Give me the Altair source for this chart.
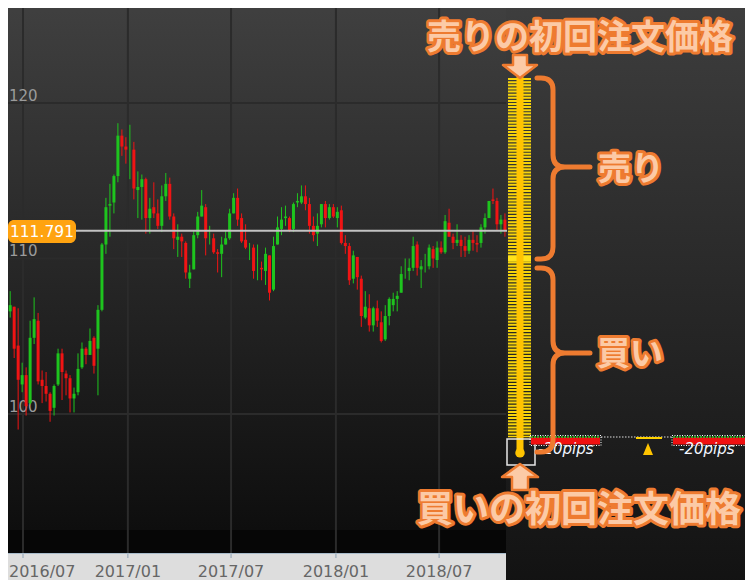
import altair as alt
import pandas as pd

W, H = 737, 572          # chart size (page has an 8px margin)
MX, MY = 8, 8


def px(x):
    return x - MX


def py(y):
    return y - MY


# ---------------- data ----------------
week_start = [
    "2016-05-30", "2016-06-06", "2016-06-13", "2016-06-20", "2016-06-27", "2016-07-04", "2016-07-11",
    "2016-07-18", "2016-07-25", "2016-08-01", "2016-08-08", "2016-08-15", "2016-08-22", "2016-08-29",
    "2016-09-05", "2016-09-12", "2016-09-19", "2016-09-26", "2016-10-03", "2016-10-10", "2016-10-17",
    "2016-10-24", "2016-10-31", "2016-11-07", "2016-11-14", "2016-11-21", "2016-11-28", "2016-12-05",
    "2016-12-12", "2016-12-19", "2016-12-26",
    "2017-01-02", "2017-01-09", "2017-01-16", "2017-01-23", "2017-01-30", "2017-02-06", "2017-02-13",
    "2017-02-20", "2017-02-27", "2017-03-06", "2017-03-13", "2017-03-20", "2017-03-27", "2017-04-03",
    "2017-04-10", "2017-04-17", "2017-04-24", "2017-05-01", "2017-05-08", "2017-05-15", "2017-05-22",
    "2017-05-29", "2017-06-05", "2017-06-12", "2017-06-19", "2017-06-26", "2017-07-03", "2017-07-10",
    "2017-07-17", "2017-07-24", "2017-07-31", "2017-08-07", "2017-08-14", "2017-08-21", "2017-08-28",
    "2017-09-04", "2017-09-11", "2017-09-18", "2017-09-25", "2017-10-02", "2017-10-09", "2017-10-16",
    "2017-10-23", "2017-10-30", "2017-11-06", "2017-11-13", "2017-11-20", "2017-11-27", "2017-12-04",
    "2017-12-11", "2017-12-18", "2017-12-25",
    "2018-01-01", "2018-01-08", "2018-01-15", "2018-01-22", "2018-01-29", "2018-02-05", "2018-02-12",
    "2018-02-19", "2018-02-26", "2018-03-05", "2018-03-12", "2018-03-19", "2018-03-26", "2018-04-02",
    "2018-04-09", "2018-04-16", "2018-04-23", "2018-04-30", "2018-05-07", "2018-05-14", "2018-05-21",
    "2018-05-28", "2018-06-04", "2018-06-11", "2018-06-18", "2018-06-25", "2018-07-02", "2018-07-09",
    "2018-07-16", "2018-07-23", "2018-07-30", "2018-08-06", "2018-08-13", "2018-08-20", "2018-08-27",
    "2018-09-03", "2018-09-10", "2018-09-17", "2018-09-24", "2018-10-01", "2018-10-08", "2018-10-15",
    "2018-10-22",
]

open_ = [
    110.6, 106.6, 106.9, 104.4, 101.9, 102.5, 100.7, 104.9, 106.0, 102.2, 101.8, 101.3, 100.4, 101.9,
    103.9, 102.6, 102.3, 101.0, 101.4, 103.0, 104.2, 103.8, 104.9, 104.2, 106.7, 110.9, 113.4, 113.6,
    115.3, 117.9, 117.2,
    117.0, 117.0, 114.4, 114.6, 115.1, 112.6, 113.3, 112.9, 112.1, 114.0, 114.8, 112.7, 111.2, 111.4,
    111.0, 108.7, 109.3, 111.5, 112.7, 113.3, 111.3, 111.3, 110.4, 110.3, 110.9, 111.3, 112.9, 113.9,
    112.6, 111.2, 110.7, 110.7, 109.2, 109.4, 109.2, 110.2, 108.0, 110.9, 111.9, 112.6, 112.6, 111.9,
    113.6, 113.6, 114.0, 113.5, 112.1, 111.6, 112.2, 113.5, 112.6, 113.3,
    112.6, 113.1, 111.0, 110.8, 108.7, 110.1, 108.7, 106.2, 106.8, 105.7, 106.8, 105.9, 104.8, 106.3,
    107.0, 107.4, 107.8, 109.1, 109.2, 109.4, 110.9, 109.3, 109.5, 109.5, 110.6, 109.9, 110.7, 110.4,
    112.3, 111.4, 111.0, 111.2, 110.8, 110.5, 111.2, 111.0, 111.0, 112.0, 112.6, 113.8, 113.7, 112.2,
    112.5,
]

high = [
    111.4, 107.9, 106.9, 106.8, 103.3, 103.0, 106.0, 107.5, 106.5, 102.8, 102.7, 101.4, 101.9, 104.2,
    104.2, 102.8, 102.5, 101.7, 103.9, 104.6, 104.3, 105.5, 105.0, 107.0, 111.0, 113.9, 114.8, 115.4,
    118.7, 118.3, 117.8,
    118.6, 117.5, 115.6, 115.4, 115.2, 113.9, 114.9, 113.8, 114.7, 115.5, 115.2, 112.9, 112.2, 111.6,
    111.1, 109.6, 111.8, 113.0, 114.4, 113.5, 112.1, 111.6, 110.6, 111.4, 111.8, 113.2, 114.2, 114.5,
    112.9, 112.2, 111.0, 110.9, 110.9, 109.8, 110.7, 110.2, 111.4, 112.7, 113.3, 113.4, 112.7, 113.6,
    114.2, 114.7, 114.7, 113.9, 112.7, 112.9, 113.5, 113.7, 113.5, 113.5,
    113.3, 113.4, 111.5, 111.0, 110.5, 110.1, 108.9, 107.9, 107.7, 106.9, 107.3, 106.6, 107.0, 107.5,
    107.8, 107.9, 109.5, 110.0, 110.0, 111.4, 111.1, 109.9, 110.3, 110.9, 110.8, 111.1, 111.1, 112.8,
    113.2, 111.6, 112.2, 111.5, 111.4, 111.5, 111.8, 111.5, 112.2, 112.9, 113.7, 114.5, 113.9, 112.8,
    112.9,
]

low = [
    106.5, 106.2, 103.6, 99.0, 101.4, 99.9, 100.6, 104.5, 101.9, 100.7, 100.8, 99.5, 99.9, 101.8,
    100.9, 101.2, 100.1, 100.1, 101.2, 102.9, 103.2, 103.8, 102.6, 101.2, 106.6, 110.3, 111.4, 112.9,
    114.9, 116.6, 116.1,
    115.1, 113.8, 112.6, 112.5, 111.6, 111.6, 112.6, 111.9, 111.7, 113.7, 112.5, 110.6, 110.1, 110.1,
    108.7, 108.1, 109.3, 111.3, 112.7, 110.2, 110.9, 110.3, 109.1, 108.8, 110.9, 111.2, 112.9, 112.1,
    111.0, 110.6, 109.9, 108.7, 108.6, 108.6, 108.3, 107.3, 107.9, 110.9, 111.5, 112.1, 111.7, 111.7,
    113.3, 113.5, 113.1, 111.6, 111.1, 110.8, 112.0, 112.0, 112.5, 112.6,
    112.0, 110.9, 110.3, 108.3, 108.4, 108.0, 105.6, 106.1, 105.3, 105.3, 105.6, 104.6, 104.7, 105.7,
    106.6, 106.6, 107.8, 108.7, 108.6, 109.2, 108.9, 108.1, 109.1, 109.3, 109.4, 109.4, 110.3, 110.3,
    111.4, 110.6, 110.8, 110.1, 110.1, 110.3, 110.5, 110.4, 110.7, 111.6, 112.6, 113.5, 111.8, 111.6,
    111.4,
]

close = [
    106.5, 107.0, 104.2, 102.2, 102.5, 100.5, 104.9, 106.1, 102.1, 101.8, 101.3, 100.2, 101.8, 103.9,
    102.7, 102.3, 101.0, 101.3, 102.9, 104.2, 103.8, 104.7, 103.1, 106.7, 110.9, 113.3, 113.5, 115.3,
    117.9, 117.2, 117.0,
    117.0, 114.5, 114.6, 115.1, 112.6, 113.2, 112.9, 112.1, 114.0, 114.8, 112.7, 111.3, 111.4, 111.1,
    109.1, 109.1, 111.5, 112.7, 113.4, 111.3, 111.3, 110.4, 110.3, 110.9, 111.3, 112.9, 113.9, 112.5,
    111.1, 110.7, 110.7, 109.2, 109.2, 109.3, 110.3, 107.8, 110.8, 112.0, 112.5, 112.7, 111.8, 113.5,
    113.7, 114.0, 113.5, 112.1, 111.5, 112.1, 113.5, 112.6, 113.3, 112.7,
    113.0, 111.0, 110.8, 108.6, 110.2, 108.8, 106.3, 106.9, 105.7, 106.8, 106.0, 104.7, 106.3, 107.4,
    107.4, 107.6, 109.0, 109.1, 109.4, 110.8, 109.4, 109.5, 109.5, 110.7, 110.0, 110.7, 110.4, 112.4,
    111.4, 111.0, 111.2, 110.8, 110.5, 111.2, 111.0, 110.9, 112.0, 112.6, 113.7, 113.7, 112.2, 112.5,
    111.8,
]

assert len(week_start) == len(open_) == len(high) == len(low) == len(close)

grid_prices = [100, 110, 120]
grid_labels = ["100", "110", "120"]
month_ticks = ["2016-07-01", "2017-01-01", "2017-07-01", "2018-01-01", "2018-07-01"]
month_labels = ["2016/07", "2017/01", "2017/07", "2018/01", "2018/07"]
current_price = 111.791

# trap-repeat order ladder (prices)
ladder_top = 121.6
ladder_split_hi = 110.2
ladder_split_lo = 109.8
ladder_stripe_bottom = 98.5
ladder_first_buy = 97.5

pips_label = "-20pips"
title_sell = "売りの初回注文価格"
title_buy = "買いの初回注文価格"
label_sell = "売り"
label_buy = "買い"

# ---------------- style ----------------
GREEN = "#1ec41e"
RED = "#f01414"
GRID = "#2b2b2b"
ORANGE = "#ee7b30"
PEACH = "#fccaa6"
CJK = "Noto Sans CJK JP"
LATIN = "DejaVu Sans"

xscale = alt.Scale(nice=False, domain=[
    alt.DateTime(year=2016, month=6, date=4, hours=16, minutes=25, utc=True),
    alt.DateTime(year=2019, month=12, date=19, hours=16, utc=True)])
yscale = alt.Scale(nice=False, zero=False, domain=[89.325, 126.109])

one = pd.DataFrame({"k": [0]})


def grad(c0, c1):
    return alt.Gradient(gradient="linear",
                        stops=[alt.GradientStop(color=c0, offset=0),
                               alt.GradientStop(color=c1, offset=1)],
                        x1=0, x2=0, y1=0, y2=1)


def rect(x1, x2, y1, y2, **kw):
    return alt.Chart(one).mark_rect(**kw).encode(
        x=alt.value(px(x1)), x2=alt.value(px(x2)),
        y=alt.value(py(y1)), y2=alt.value(py(y2)))


def hrule(x1, x2, y, **kw):
    return alt.Chart(one).mark_rule(**kw).encode(
        x=alt.value(px(x1)), x2=alt.value(px(x2)), y=alt.value(py(y)))


def to_path(cmds, cx0, cy0, s):
    out = []
    for c in cmds:
        op, pts = c[0], c[1:]
        out.append(op + " ".join(f"{(x - cx0) / s:.4f},{(y - cy0) / s:.4f}" for x, y in pts))
    return " ".join(out)


def sym(cmds, cx0, cy0, s, **kw):
    return alt.Chart(one).mark_point(shape=to_path(cmds, cx0, cy0, s), size=(2 * s) ** 2,
                                     opacity=1, **kw).encode(
        x=alt.value(px(cx0)), y=alt.value(py(cy0)))


def brace(xl, yt, yb, xs, ym, xt, r):
    return [("M", (xl, yt)), ("L", (xs - r, yt)), ("Q", (xs, yt), (xs, yt + r)),
            ("L", (xs, ym - r)), ("Q", (xs, ym), (xs + r, ym)), ("L", (xt, ym)),
            ("M", (xs + r, ym)), ("Q", (xs, ym), (xs, ym + r)),
            ("L", (xs, yb - r)), ("Q", (xs, yb), (xs - r, yb)), ("L", (xl, yb))]


def big_text(txt, x, y, size, align):
    d = pd.DataFrame({"s": [txt]})
    kw = dict(font=CJK, fontSize=size, fontWeight="bold", align=align, baseline="alphabetic")
    enc = dict(x=alt.value(px(x)), y=alt.value(py(y)), text="s:N")
    outline = alt.Chart(d).mark_text(fill=ORANGE, stroke=ORANGE, strokeWidth=6,
                                     strokeJoin="round", **kw).encode(**enc)
    inner = alt.Chart(d).mark_text(fill=PEACH, **kw).encode(**enc)
    return [outline, inner]


layers = []

# backgrounds
layers.append(rect(0, 506, 0, 530, fill=grad("#404040", "#0e0e0e")))
layers.append(rect(506, 753, 0, 588, fill=grad("#3e3e3e", "#121212")))
layers.append(rect(0, 506, 530, 553, fill="#060606"))
layers.append(rect(0, 506, 553, 588, fill="#dddddd"))
layers.append(hrule(0, 506, 553.5, color="#a9bccc", strokeWidth=1))

# grid
months = pd.DataFrame({"d": month_ticks, "lab": month_labels})
xenc = alt.X("d:T", scale=xscale, axis=None)
layers.append(alt.Chart(months).mark_rule(color=GRID, strokeWidth=2).encode(
    x=xenc, y=alt.value(0), y2=alt.value(py(553))))
layers.append(alt.Chart(months).mark_rule(color="#8fa3b5", strokeWidth=1).encode(
    x=xenc, y=alt.value(py(554)), y2=alt.value(py(558))))
layers.append(alt.Chart(months.iloc[1:]).mark_text(
    align="center", baseline="alphabetic", font=LATIN, fontSize=16, color="#666666").encode(
    x=xenc, y=alt.value(py(577)), text="lab:N"))
layers.append(alt.Chart(months.iloc[:1]).mark_text(
    align="left", baseline="alphabetic", font=LATIN, fontSize=16, color="#666666").encode(
    x=alt.value(1), y=alt.value(py(577)), text="lab:N"))

prices = pd.DataFrame({"p": grid_prices, "lab": grid_labels})
yenc = alt.Y("p:Q", scale=yscale, axis=None)
layers.append(alt.Chart(prices).mark_rule(color=GRID, strokeWidth=2).encode(
    y=yenc, x=alt.value(0), x2=alt.value(px(506))))
layers.append(alt.Chart(prices).mark_text(
    align="left", baseline="alphabetic", dy=-2, font=LATIN, fontSize=15, color="#9b9b9b").encode(
    y=yenc, x=alt.value(1), text="lab:N"))

# candles
candles = pd.DataFrame({"t": week_start, "o": open_, "h": high, "l": low, "c": close})
base = alt.Chart(candles).transform_calculate(mid="time(toDate(datum.t)) + 216000000")
col = alt.condition("datum.c >= datum.o", alt.value(GREEN), alt.value(RED))
cx = alt.X("mid:T", scale=xscale, axis=None)
layers.append(base.mark_rule(strokeWidth=1, clip=True).encode(
    x=cx, y=alt.Y("l:Q", scale=yscale, axis=None), y2="h:Q", color=col))
layers.append(base.mark_rule(strokeWidth=3, clip=True).encode(
    x=cx, y=alt.Y("o:Q", scale=yscale, axis=None), y2="c:Q", color=col))

# current price line & tag
cp = pd.DataFrame({"p": [current_price], "lab": [f"{current_price:.3f}"]})
layers.append(alt.Chart(cp).mark_rule(color="#c2c2c2", strokeWidth=2).encode(
    y=yenc, x=alt.value(0), x2=alt.value(px(507))))
layers.append(rect(8, 76, 220, 243, fill="#ffa310", cornerRadius=6))
layers.append(alt.Chart(cp).mark_text(
    align="right", baseline="middle", dy=1, font=LATIN, fontSize=15.5, color="white").encode(
    y=yenc, x=alt.value(px(74)), text="lab:N"))

# order ladder
lad = pd.DataFrame({"top": [ladder_top], "shi": [ladder_split_hi], "slo": [ladder_split_lo],
                    "sb": [ladder_stripe_bottom], "fb": [ladder_first_buy]})
layers.append(alt.Chart(lad).mark_rule(color="#f6d40c", strokeWidth=23, strokeDash=[2, 1.11]).encode(
    x=alt.value(px(519.5)), y=alt.Y("top:Q", scale=yscale, axis=None), y2="sb:Q"))
layers.append(alt.Chart(lad).mark_rule(color="#ffe21a", strokeWidth=23).encode(
    x=alt.value(px(519.5)), y=alt.Y("shi:Q", scale=yscale, axis=None), y2="slo:Q"))
layers.append(alt.Chart(lad).mark_rule(color="#ffc400", strokeWidth=7, strokeCap="round").encode(
    x=alt.value(px(520)), y=alt.Y("top:Q", scale=yscale, axis=None), y2="fb:Q"))
layers.append(alt.Chart(lad).mark_point(shape="circle", filled=True, size=90, color="#ffc400",
                                        opacity=1).encode(
    x=alt.value(px(520)), y=alt.Y("fb:Q", scale=yscale, axis=None)))
layers.append(rect(507, 535, 439, 465, fillOpacity=0, stroke="#e6e6e6", strokeWidth=1.5))

# pips indicators
for x1, x2 in [(531, 600), (673, 746)]:
    layers.append(rect(x1, x2, 437.5, 444.5, fill="#f01010"))
    layers.append(hrule(x1, x2, 437, color="#2fd02f", strokeWidth=1.5, strokeDash=[2, 1]))
    layers.append(rect(x1 - 1, x2 + 1, 435.5, 445.5, fillOpacity=0, stroke="white",
                       strokeWidth=1, strokeDash=[1, 1.5]))
layers.append(hrule(601, 673, 437, color="#dddddd", strokeWidth=1.2, strokeDash=[1.5, 1.5]))
layers.append(hrule(636, 662, 438, color="#ffd200", strokeWidth=2))
layers.append(sym([("M", (648, 443)), ("L", (653, 455)), ("L", (643, 455)), ("Z",)],
                  648, 449, 7, filled=True, color="#ffc400"))
pips = pd.DataFrame({"s": [pips_label]})
for x in [538, 679]:
    layers.append(alt.Chart(pips).mark_text(
        align="left", baseline="alphabetic", font=LATIN, fontSize=15, fontStyle="italic",
        color="#f2f6ff").encode(x=alt.value(px(x)), y=alt.value(py(454)), text="s:N"))

# braces
for yt, yb, ym in [(78, 259, 167), (268, 452, 353)]:
    layers.append(sym(brace(537, yt, yb, 553, ym, 590, 12), 553, ym, 100,
                      filled=False, color=ORANGE, strokeWidth=5, strokeCap="round",
                      strokeJoin="round"))

# arrows
down = [("M", (513, 55)), ("L", (527, 55)), ("L", (527, 65)), ("L", (537, 65)),
        ("L", (520, 78)), ("L", (503, 65)), ("L", (513, 65)), ("Z",)]
up = [("M", (520, 464)), ("L", (538, 477)), ("L", (528, 477)), ("L", (528, 490)),
      ("L", (512, 490)), ("L", (512, 477)), ("L", (502, 477)), ("Z",)]
layers.append(sym(down, 520, 66, 20, filled=True, fill=PEACH, stroke=ORANGE, strokeWidth=2.5,
                  strokeJoin="round"))
layers.append(sym(up, 520, 477, 20, filled=True, fill=PEACH, stroke=ORANGE, strokeWidth=2.5,
                  strokeJoin="round"))

# annotation texts
layers += big_text(title_sell, 580, 48.5, 34, "center")
layers += big_text(title_buy, 579, 522, 36, "center")
layers += big_text(label_sell, 598, 180, 33, "left")
layers += big_text(label_buy, 597, 365, 33, "left")

chart = alt.layer(*layers).properties(
    width=W, height=H, padding=0,
    autosize=alt.AutoSizeParams(type="none"),
    background="#141414",
).configure_view(stroke=None)

chart.save("out.html", embed_options={"renderer": "svg", "actions": False})
